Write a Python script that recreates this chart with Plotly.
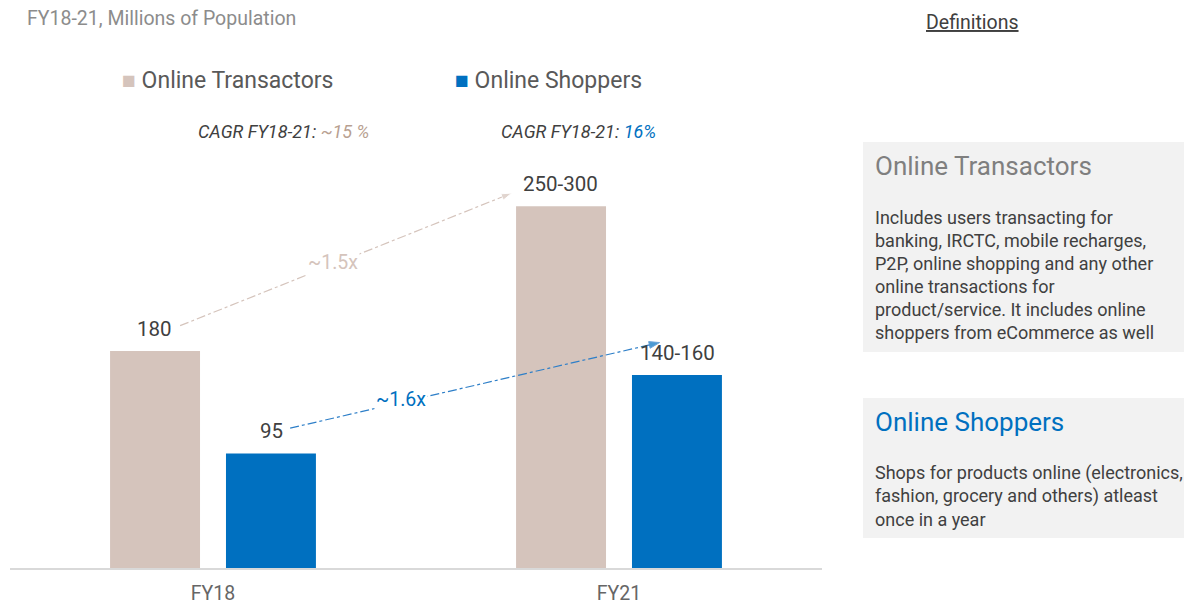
import plotly.graph_objects as go

# ---- data ----
categories = ["FY18", "FY21"]
cat_pos = [0, 1]
transactors = [180, 300]
transactor_labels = ["180", "250-300"]
shoppers = [95, 160]
shopper_labels = ["95", "140-160"]
growth_labels = ["~1.5x", "~1.6x"]
cagr_labels = ["~15 %", "16%"]
def_titles = ["Online Transactors", "Online Shoppers"]
def_lines_1 = ["Includes users transacting for", "banking, IRCTC, mobile recharges,",
               "P2P, online shopping and any other", "online transactions for",
               "product/service. It includes online", "shoppers from eCommerce as well"]
def_lines_2 = ["Shops for products online (electronics,", "fashion, grocery and others) atleast",
               "once in a year"]

C_T = "#D5C4BC"
C_S = "#0070C0"
TXT = "#404040"
FONT = "Roboto"

fig = go.Figure()
fig.add_trace(go.Bar(x=cat_pos, y=transactors, name="Online Transactors",
                     marker=dict(color=C_T, line=dict(width=0)), hoverinfo="skip"))
fig.add_trace(go.Bar(x=cat_pos, y=shoppers, name="Online Shoppers",
                     marker=dict(color=C_S, line=dict(width=0)), hoverinfo="skip"))

off = 0.143  # half slot offset of grouped bars
ann = []
for i, x in enumerate(cat_pos):
    ann.append(dict(x=x - off, y=transactors[i], text=transactor_labels[i], showarrow=False,
                    yanchor="bottom", yshift=8, font=dict(size=20.5, color=TXT, family=FONT)))
    ann.append(dict(x=x + off, y=shoppers[i], text=shopper_labels[i], showarrow=False,
                    yanchor="bottom", yshift=8, font=dict(size=20.5, color=TXT, family=FONT)))

# growth arrows (derived from bar values)
t_x = [cat_pos[0] - off + 0.062, cat_pos[1] - off - 0.121]
t_y = [transactors[0] + 21, transactors[1] + 11]
s_x = [cat_pos[0] + off + 0.047, cat_pos[1] + off - 0.043]
s_y = [shoppers[0] + 21, shoppers[1] + 27]

fig.add_trace(go.Scatter(x=t_x, y=t_y, mode="lines+markers", showlegend=False, hoverinfo="skip",
                         line=dict(color=C_T, width=1.2, dash="dashdot"),
                         marker=dict(symbol="arrow", size=[0, 11], angleref="previous", color=C_T)))
fig.add_trace(go.Scatter(x=s_x, y=s_y, mode="lines+markers", showlegend=False, hoverinfo="skip",
                         line=dict(color="#2E7FC8", width=1.2, dash="dashdot"),
                         marker=dict(symbol="arrow", size=[0, 11], angleref="previous", color=C_S)))

ann.append(dict(x=t_x[0] + (t_x[1] - t_x[0]) * 0.46, y=t_y[0] + (t_y[1] - t_y[0]) * 0.48,
                text=growth_labels[0], showarrow=False, bgcolor="white",
                font=dict(size=19.5, color=C_T, family=FONT)))
ann.append(dict(x=s_x[0] + (s_x[1] - s_x[0]) * 0.3, y=s_y[0] + (s_y[1] - s_y[0]) * 0.33,
                text=growth_labels[1], showarrow=False, bgcolor="white",
                font=dict(size=19.5, color=C_S, family=FONT)))

# pixel helpers (window coordinates; body margin removed below)
W, H = 1184, 605
ML, MR, MT, MB = 10, 362, 134, 37
PW, PH = W - ML - MR, H - MT - MB


def px(xp):
    return (xp - ML) / PW


def py(yp):
    return (H - MB - yp) / PH


def txt(xp, yp, text, size, color, xanchor="left", yanchor="middle", **kw):
    ann.append(dict(xref="paper", yref="paper", x=px(xp), y=py(yp), text=text, showarrow=False,
                    xanchor=xanchor, yanchor=yanchor, align="left",
                    font=dict(size=size, color=color, family=FONT), **kw))


txt(25, 18, "FY18-21, Millions of Population", 19.5, "#8C8C8C")
txt(120, 80, f'<span style="color:{C_T}">■</span> Online Transactors', 23, "#595959")
txt(453, 80, f'<span style="color:{C_S}">■</span> Online Shoppers', 23, "#595959")
txt(196, 131, f'<i>CAGR FY18-21: <span style="color:#B89F91">{cagr_labels[0]}</span></i>', 18, TXT)
txt(499, 131, f'<i>CAGR FY18-21: <span style="color:{C_S}">{cagr_labels[1]}</span></i>', 18, TXT)

txt(972, 23, "<u>Definitions</u>", 19.5, TXT, xanchor="center")
txt(873, 166, def_titles[0], 26, "#7F7F7F")
for k, line in enumerate(def_lines_1):
    txt(873, 217 + 23 * k, line, 18, TXT)
txt(873, 422, def_titles[1], 26, C_S)
for k, line in enumerate(def_lines_2):
    txt(873, 473 + 23 * k, line, 18, TXT)

shapes = [
    dict(type="rect", xref="paper", yref="paper", x0=px(863), x1=px(1190), y0=py(142), y1=py(352),
         fillcolor="#F2F2F2", line=dict(width=0), layer="below"),
    dict(type="rect", xref="paper", yref="paper", x0=px(863), x1=px(1190), y0=py(398), y1=py(538),
         fillcolor="#F2F2F2", line=dict(width=0), layer="below"),
]

fig.update_layout(
    width=W, height=H,
    margin=dict(l=ML, r=MR, t=MT, b=MB, autoexpand=False),
    paper_bgcolor="white", plot_bgcolor="white",
    barmode="group", bargap=0.429, bargroupgap=0.224,
    showlegend=False,
    annotations=ann, shapes=shapes,
    font=dict(family=FONT, color=TXT),
    xaxis=dict(range=[-0.5, 1.5], tickvals=cat_pos, ticktext=categories, showgrid=False, zeroline=False,
               showline=True, linecolor="#D9D9D9", linewidth=2, ticks="", ticklabelstandoff=7,
               automargin=False, tickfont=dict(size=19.5, color="#666666", family=FONT)),
    yaxis=dict(range=[0, 360], visible=False, showgrid=False, zeroline=False, automargin=False),
)

fig.write_html("out.html", config={"displayModeBar": False},
               post_script="document.body.style.margin='0';document.body.style.overflow='hidden';")
